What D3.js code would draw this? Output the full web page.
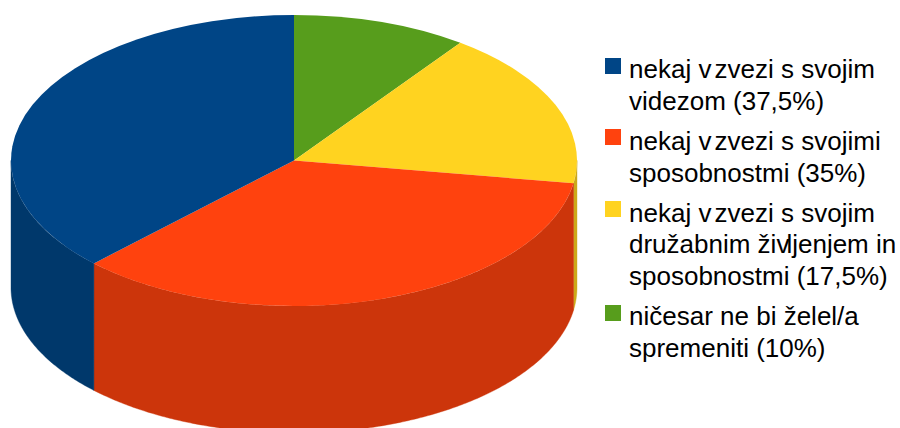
<!DOCTYPE html>
<html>
<head>
<meta charset="utf-8">
<script src="https://cdn.jsdelivr.net/npm/d3@7"></script>
<style>
html, body { margin: 0; padding: 0; background: #fff; }
svg { display: block; }
text { font-family: "Liberation Sans", Arial, sans-serif; font-size: 26px; fill: #000; }
</style>
</head>
<body>
<svg id="chart" width="900" height="428"></svg>
<script>
// Share of answers per category, clockwise from twelve o'clock
const sliceNames = ["nothing", "social", "abilities", "looks"];
const sliceValues = [10, 17.5, 35, 37.5];
const sliceColors = ["#579d1c", "#ffd320", "#ff420e", "#004586"];
const sideColors = ["#467e16", "#cca91a", "#cc350b", "#00386b"];

// Legend entries, in legend order, one array item per line
const legendLines = [
  ["nekaj v zvezi s svojim", "videzom (37,5%)"],
  ["nekaj v zvezi s svojimi", "sposobnostmi (35%)"],
  ["nekaj v zvezi s svojim", "družabnim življenjem in", "sposobnostmi (17,5%)"],
  ["ničesar ne bi želel/a", "spremeniti (10%)"]
];
const legendColors = ["#004586", "#ff420e", "#ffd320", "#579d1c"];
const legendBaselines = [[78, 110], [150, 182], [222, 253, 285], [325, 357]];
const legendSwatchTops = [58, 129, 201, 305];

const cx = 294, cy = 160.5, rx = 283, ry = 145.5, depth = 127;
const svg = d3.select("#chart");

const arcs = d3.pie().sort(null).value(d => d)(sliceValues);

// Rim of the disc: only the part facing the viewer (3 o'clock round to 9 o'clock)
const frontStart = Math.PI / 2, frontEnd = Math.PI * 3 / 2;
const px = a => cx + rx * Math.sin(a);
const py = a => cy - ry * Math.cos(a);
const rim = d3.area().x(px).y0(py).y1(a => py(a) + depth);

const sides = svg.append("g");
arcs.forEach((d, i) => {
  const a0 = Math.max(d.startAngle, frontStart);
  const a1 = Math.min(d.endAngle, frontEnd);
  if (a1 <= a0) return;
  const steps = Math.ceil((a1 - a0) / 0.01);
  const angles = d3.range(steps + 1).map(k => a0 + (a1 - a0) * k / steps);
  sides.append("path")
    .attr("d", rim(angles))
    .attr("fill", sideColors[i])
    .attr("stroke", sideColors[i])
    .attr("stroke-width", 0.4);
});

// Top face: a flat pie squashed into an ellipse
const arc = d3.arc().innerRadius(0).outerRadius(rx);
svg.append("g")
  .attr("transform", `translate(${cx},${cy}) scale(1,${ry / rx})`)
  .selectAll("path")
  .data(arcs)
  .join("path")
  .attr("class", (d, i) => sliceNames[i])
  .attr("d", arc)
  .attr("fill", (d, i) => sliceColors[i]);

// Tight letter pairs in the legend face: break the line there and pull the rest back
const tightPairs = [["v", " zvezi", -4], ["vi", "dezom", 0], ["živ", "ljenjem", -3]];
function writeLine(sel, line) {
  const pair = tightPairs.find(p => line.includes(p[0] + p[1]));
  if (!pair || !pair[2]) { sel.text(line); return; }
  const cut = line.indexOf(pair[0] + pair[1]) + pair[0].length;
  sel.append("tspan").text(line.slice(0, cut));
  sel.append("tspan").attr("dx", pair[2]).text(line.slice(cut));
}

// Legend
const legend = svg.append("g");
legendLines.forEach((lines, i) => {
  legend.append("rect")
    .attr("x", 605).attr("y", legendSwatchTops[i])
    .attr("width", 16).attr("height", 16)
    .attr("fill", legendColors[i]);
  lines.forEach((line, j) => {
    legend.append("text")
      .attr("x", 629).attr("y", legendBaselines[i][j])
      .attr("xml:space", "preserve")
      .style("white-space", "pre")
      .call(writeLine, line);
  });
});
</script>
</body>
</html>
